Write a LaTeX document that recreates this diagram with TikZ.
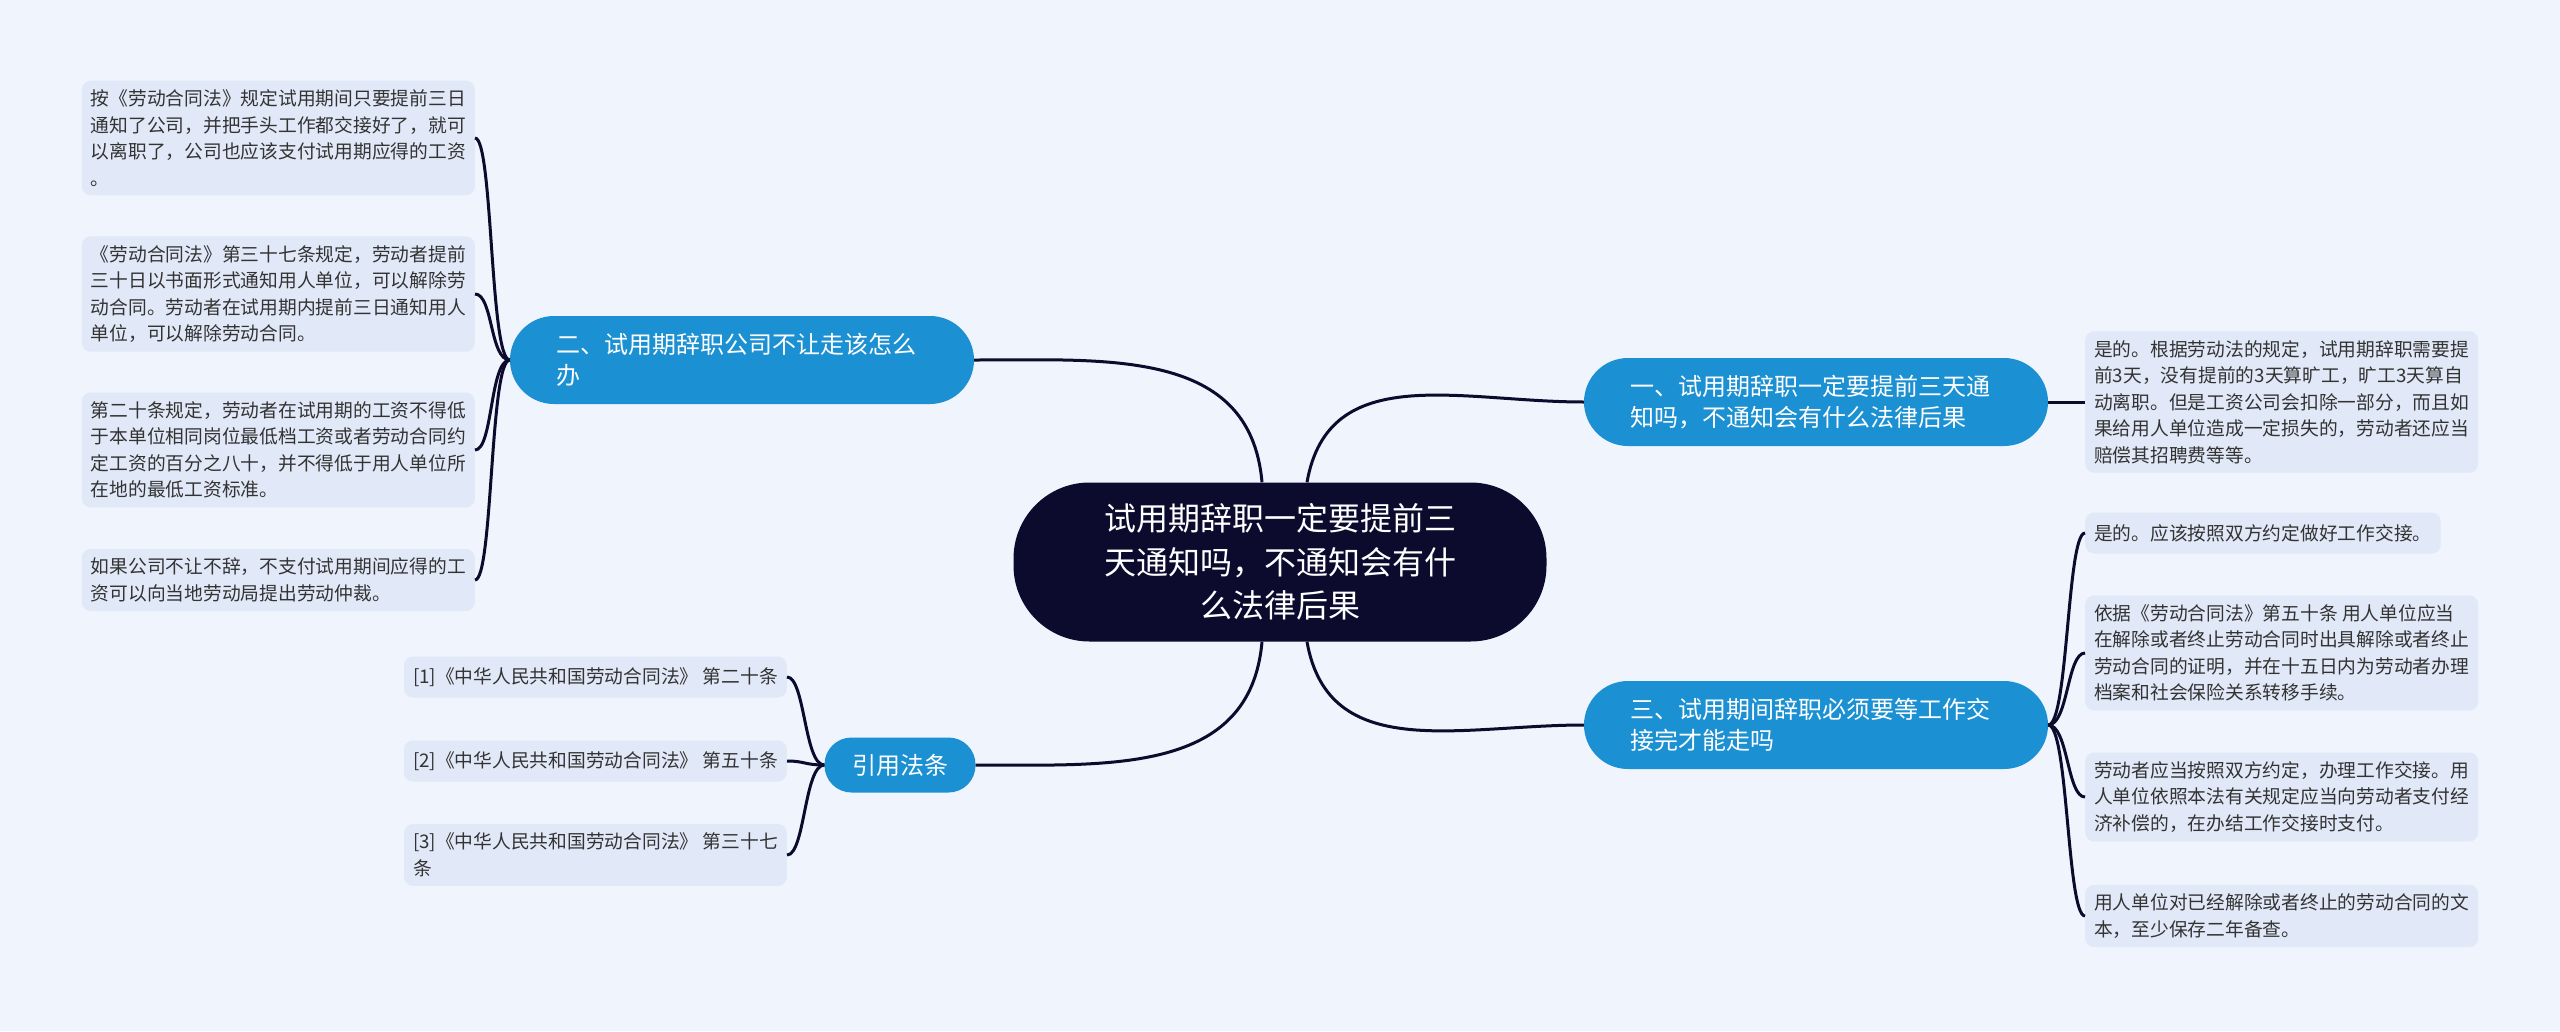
\documentclass[tikz,border=0pt]{standalone}
\usepackage{fontspec}
\setmainfont{Noto Sans CJK SC}
\definecolor{bgblue}{HTML}{EFF4FD}
\definecolor{leafblue}{HTML}{E1E9F8}
\definecolor{topicblue}{HTML}{1B90D2}
\definecolor{rootnavy}{HTML}{0C0B2E}
\definecolor{leaftext}{HTML}{333333}
\tikzset{
  rootnode/.style={rectangle, rounded corners=76pt, fill=rootnavy, text=white, align=center,
    minimum width=533pt, minimum height=159pt, font=\fontsize{32}{43.5}\selectfont},
  topicnode/.style={rectangle, rounded corners=27pt, fill=topicblue, text=white,
    minimum height=55pt, font=\fontsize{24}{31.5}\selectfont},
  widetopic/.style={topicnode, rounded corners=44pt, minimum height=88pt, text width=372pt,
    inner xsep=46pt, align=left},
  leafnode/.style={rectangle, rounded corners=9pt, fill=leafblue, text=leaftext, align=left,
    inner xsep=9pt, inner ysep=9pt, minimum height=41pt, font=\fontsize{18.75}{26.5}\selectfont},
  link/.style={draw=rootnavy, line width=3pt},
}
\begin{document}
\begin{tikzpicture}[x=1pt,y=1pt]
\fill[bgblue] (0,0) rectangle (2560,-1031);

% centre and main topics
\node[rootnode] (root) at (1280,-562) {试用期辞职一定要提前三\\天通知吗，不通知会有什\\么法律后果};
\node[widetopic] (t2) at (742,-360) {二、试用期辞职公司不让走该怎么\\办};
\node[widetopic] (t1) at (1816,-402) {一、试用期辞职一定要提前三天通\\知吗，不通知会有什么法律后果};
\node[widetopic] (t3) at (1816,-725) {三、试用期间辞职必须要等工作交\\接完才能走吗};
\node[topicnode, minimum width=151pt] (cite) at (900,-765) {引用法条};

% left leaves
\node[leafnode, anchor=east] (l1) at (475,-138) {按《劳动合同法》规定试用期间只要提前三日\\通知了公司，并把手头工作都交接好了，就可\\以离职了，公司也应该支付试用期应得的工资\\。};
\node[leafnode, anchor=east] (l2) at (475,-294) {《劳动合同法》第三十七条规定，劳动者提前\\三十日以书面形式通知用人单位，可以解除劳\\动合同。劳动者在试用期内提前三日通知用人\\单位，可以解除劳动合同。};
\node[leafnode, anchor=east] (l3) at (475,-450) {第二十条规定，劳动者在试用期的工资不得低\\于本单位相同岗位最低档工资或者劳动合同约\\定工资的百分之八十，并不得低于用人单位所\\在地的最低工资标准。};
\node[leafnode, anchor=east] (l4) at (475,-580) {如果公司不让不辞，不支付试用期间应得的工\\资可以向当地劳动局提出劳动仲裁。};

% citations
\node[leafnode, anchor=east] (c1) at (787,-677) {[1]《中华人民共和国劳动合同法》 第二十条};
\node[leafnode, anchor=east] (c2) at (787,-761) {[2]《中华人民共和国劳动合同法》 第五十条};
\node[leafnode, anchor=east] (c3) at (787,-855) {[3]《中华人民共和国劳动合同法》 第三十七\\条};

% right leaves
\node[leafnode, anchor=west] (r1) at (2085,-402) {是的。根据劳动法的规定，试用期辞职需要提\\前3天，没有提前的3天算旷工，旷工3天算自\\动离职。但是工资公司会扣除一部分，而且如\\果给用人单位造成一定损失的，劳动者还应当\\赔偿其招聘费等等。};
\node[leafnode, anchor=west] (r3a) at (2085,-533) {是的。应该按照双方约定做好工作交接。};
\node[leafnode, anchor=west] (r3b) at (2085,-653) {依据《劳动合同法》第五十条 用人单位应当\\在解除或者终止劳动合同时出具解除或者终止\\劳动合同的证明，并在十五日内为劳动者办理\\档案和社会保险关系转移手续。};
\node[leafnode, anchor=west] (r3c) at (2085,-797) {劳动者应当按照双方约定，办理工作交接。用\\人单位依照本法有关规定应当向劳动者支付经\\济补偿的，在办结工作交接时支付。};
\node[leafnode, anchor=west] (r3d) at (2085,-916) {用人单位对已经解除或者终止的劳动合同的文\\本，至少保存二年备查。};

% connectors from the centre
\draw[link] ([xshift=-18pt]root.north) to[out=95,in=0,looseness=1.1] (t2.east);
\draw[link] ([xshift=27pt]root.north) to[out=80,in=180,looseness=1.1] (t1.west);
\draw[link] ([xshift=-18pt]root.south) to[out=-95,in=0,looseness=1.1] (cite.east);
\draw[link] ([xshift=27pt]root.south) to[out=-80,in=180,looseness=1.1] (t3.west);

% connectors to the leaves
\foreach \leaf in {l1,l2,l3,l4}
  \draw[link] (t2.west) .. controls +(-20,0) and +(18,0) .. (\leaf.east);
\foreach \leaf in {c1,c2,c3}
  \draw[link] (cite.west) .. controls +(-20,0) and +(18,0) .. (\leaf.east);
\draw[link] (t1.east) -- (r1.west);
\foreach \leaf in {r3a,r3b,r3c,r3d}
  \draw[link] (t3.east) .. controls +(20,0) and +(-18,0) .. (\leaf.west);
\end{tikzpicture}
\end{document}
